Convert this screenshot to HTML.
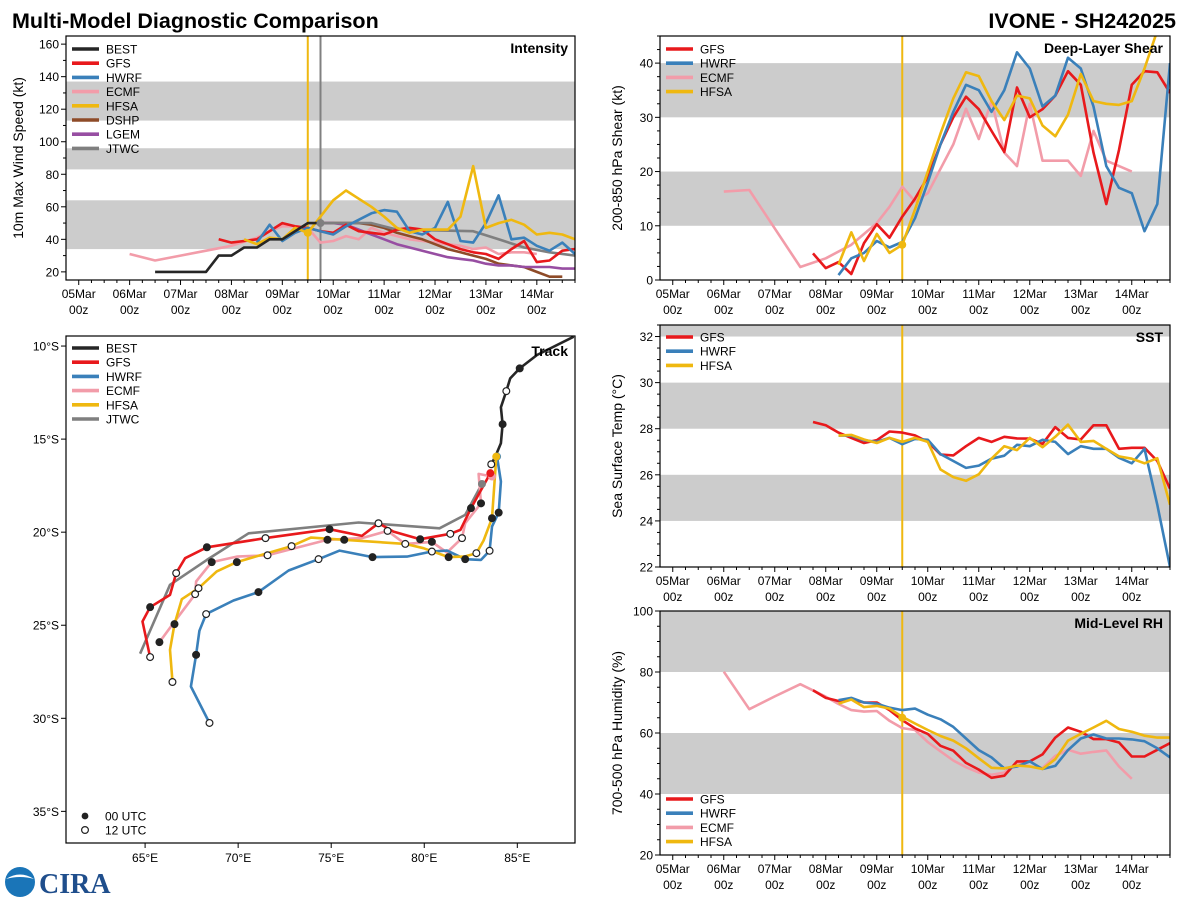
<!DOCTYPE html>
<html><head><meta charset="utf-8"><title>Multi-Model Diagnostic Comparison</title>
<style>
html,body{margin:0;padding:0;background:#fff;}
svg{display:block;font-family:"Liberation Sans","DejaVu Sans",sans-serif;}
</style></head>
<body>
<svg id="chart" width="1200" height="900" viewBox="0 0 1200 900" xmlns="http://www.w3.org/2000/svg">
<text x="12" y="28" font-size="21.5" font-weight="bold" fill="#000">Multi-Model Diagnostic Comparison</text>
<text x="1176" y="28" font-size="21.5" font-weight="bold" fill="#000" text-anchor="end">IVONE - SH242025</text>
<g>
<circle cx="20" cy="882" r="15" fill="#1a75b8"/>
<path d="M6,879 Q20,870 34,879 Q20,875 6,879Z" fill="#fff"/>
<text x="39" y="893" font-size="28" font-weight="bold" fill="#1f4e8c" font-family="Liberation Serif, serif">CIRA</text>
</g>
</svg>
<script>
// ===== Time-series data (time in days from 05Mar 00z) =====
const timeTickLabels = ['05Mar','06Mar','07Mar','08Mar','09Mar','10Mar','11Mar','12Mar','13Mar','14Mar'];

// Intensity (kt)
const intBestT0 = 1.5;
const intBestV = [20,20,20,20,20,30,30,35,35,40,40,45,50,50];
const intGfsT0 = 2.75;
const intGfsV = [40,38,39,40,45,50,48,47,45,44,49,45,44,43,46,47,46,40,37,34,32,31,28,34,39,26,27,33,34];
const intHwrfT0 = 3.5;
const intHwrfV = [38,49,39,44,47,45,43,48,52,56,58,57,45,43,47,63,39,38,50,67,40,41,36,33,38,31];
const intEcmfT = [1,1.5,2,2.5,3,3.5,3.75,4,4.25,4.5,4.75,5,5.25,5.5,5.75,6,6.25,6.5,6.75,7,7.25,7.5,7.75,8,8.25,8.5,8.75,9];
const intEcmfV = [31,27,30,33,36,41,45,48,48,47,38,39,42,40,47,44,42,40,39,38,37,36,34,35,31,32,32,31];
const intHfsaT0 = 3.25;
const intHfsaV = [40,37,41,40,47,44,54,64,70,65,60,54,47,44,46,46,46,54,85,47,50,52,49,43,44,43,40];
const intDshpT0 = 4.75;
const intDshpV = [50,50,50,50,49,47,44,42,40,37,34,32,30,28,25,24,23,20,17,17];
const intLgemT0 = 4.75;
const intLgemV = [50,50,49,46,43,40,37,35,33,31,29,28,27,25,24,24,23,23,23,22,22];
const intJtwcT = [4.75,5.75,6.25,7.75,8.25,8.75,9.25,9.75];
const intJtwcV = [50,50,46,45,40,35,32,30];

// Deep-layer shear (kt)
const shrGfsT0 = 2.75;
const shrGfsV = [4.9,2.2,3.3,1.1,6.8,10.3,7.8,11.7,15,19,25,30,33.8,31.5,27.5,23.6,35.5,30,31.5,34,38.5,36,23.5,14,24,36,38.5,38.3,34.5];
const shrHwrfT0 = 3.25;
const shrHwrfV = [0.9,4,5,7.2,6,7,11.4,18,25,31,36,35,31,35,42,39,32,34,41,39,32,21,17,16,9,14,40];
const shrEcmfT = [1,1.5,2.5,3,3.5,4,4.25,4.5,4.75,5,5.25,5.5,5.75,6,6.25,6.5,6.75,7,7.25,7.5,7.75,8,8.25,8.5,8.75,9];
const shrEcmfV = [16.3,16.6,2.4,4,6.5,10.5,13.5,17.2,14.5,16,20.5,25,31.6,26,33,23.5,21,32.5,22,22,22,19.2,27.5,22,21,20];
const shrHfsaT0 = 3.25;
const shrHfsaV = [2.8,8.8,3.5,8.5,5,6.5,13,20,27,33.5,38.3,37.6,33,29.5,34,33.5,28.5,26.5,30.5,38,33,32.5,32.3,33,39,46];

// SST (deg C)
const sstGfsT0 = 2.75;
const sstGfsV = [28.29,28.15,27.83,27.6,27.38,27.5,27.88,27.83,27.71,27.43,26.88,26.84,27.24,27.6,27.43,27.65,27.58,27.57,27.34,28.07,27.6,27.53,28.15,28.15,27.13,27.17,27.17,26.6,25.4];
const sstHwrfT0 = 3.25;
const sstHwrfV = [27.7,27.7,27.5,27.43,27.6,27.33,27.56,27.52,26.9,26.6,26.3,26.4,26.7,26.83,27.3,27.24,27.52,27.43,26.9,27.24,27.13,27.13,26.74,26.5,27.13,24.7,22.0];
const sstHfsaT0 = 3.25;
const sstHfsaV = [27.7,27.73,27.53,27.38,27.6,27.43,27.6,27.43,26.23,25.9,25.74,26.02,26.7,27.24,27.07,27.6,27.2,27.65,28.18,27.43,27.47,27.13,26.8,26.7,26.5,26.72,24.7];

// Mid-level RH (%)
const rhGfsT0 = 2.75;
const rhGfsV = [74,71.5,70.5,71,70,70,67.5,64.2,61.5,59.7,55.8,54.2,50.2,48,45.3,46,50.7,50.7,53,58.5,61.8,60.4,58,58,56.9,52.3,52.3,54.5,56.7];
const rhHwrfT0 = 3.25;
const rhHwrfV = [70.8,71.5,70,69.6,68.3,67.5,68,66,64.5,62,58.2,54.4,52,48.4,49,50.7,48.2,49.2,54.4,58.2,59.5,58.2,58.2,57.9,57.3,55,52];
const rhEcmfT = [1,1.5,2,2.5,3,3.25,3.5,3.75,4,4.25,4.5,4.75,5,5.25,5.5,5.75,6,6.25,6.5,6.75,7,7.25,7.5,7.75,8,8.25,8.5,8.75,9];
const rhEcmfV = [80.1,67.8,72,76,71.9,69.5,67.5,67,67.2,64,61.6,61,57,54,51,48.8,47,46.3,47,50,49,48.5,52.5,54.5,53.2,53.8,54.3,49,45];
const rhHfsaT0 = 3.25;
const rhHfsaV = [69.6,71,68.5,68.9,68,65.3,63.1,61,59,57.5,55,51.7,48.6,48.4,49.3,49,48.2,51.4,57.5,59.7,61.8,64,61.3,60.4,59.1,58.5,58.5];

// ===== Track data (lon E, lat; marker 0 none, 1 = 00 UTC, 2 = 12 UTC) =====
const trkBestLon = [88.03,86.06,85.13,84.62,84.41,84.12,84.21,84.12,83.82,83.60];
const trkBestLat = [-9.50,-10.48,-11.20,-11.74,-12.42,-13.29,-14.20,-15.22,-15.94,-16.35];
const trkBestMk  = [0,0,1,0,2,0,1,0,0,2];
const trkGfsLon = [83.55,82.51,81.94,81.40,79.78,78.35,77.54,76.65,74.91,71.47,68.32,67.15,66.67,66.34,65.27,64.86,65.27];
const trkGfsLat = [-16.83,-18.71,-19.88,-20.09,-20.38,-19.97,-19.52,-20.20,-19.84,-20.32,-20.81,-21.40,-22.20,-23.37,-24.03,-24.80,-26.71];
const trkGfsMk  = [0,1,0,2,1,0,2,0,1,2,1,0,2,0,1,0,2];
const trkHwrfLon = [83.91,84.12,84.00,83.64,83.51,83.05,82.20,81.22,80.41,79.07,77.22,75.45,74.32,72.71,71.09,69.75,68.28,67.92,67.74,67.46,68.46];
const trkHwrfLat = [-15.94,-17.28,-18.95,-19.70,-21.00,-21.49,-21.45,-20.99,-21.04,-21.31,-21.34,-20.99,-21.45,-22.06,-23.22,-23.67,-24.40,-25.30,-26.59,-28.29,-30.25];
const trkHwrfMk  = [0,0,1,0,2,0,1,0,2,0,1,0,2,0,1,0,2,0,1,0,2];
const trkEcmfLon = [83.64,82.92,83.05,82.20,82.03,81.22,80.41,78.98,78.03,76.65,74.80,71.58,69.93,68.58,67.74,67.69,66.52,65.77];
const trkEcmfLat = [-17.01,-16.87,-18.45,-19.52,-20.32,-21.09,-20.52,-20.63,-19.93,-20.32,-20.41,-21.24,-21.31,-21.61,-22.65,-23.33,-24.89,-25.91];
const trkEcmfMk  = [0,0,1,0,2,0,1,0,2,0,1,2,0,1,0,2,0,1];
const trkHfsaLon = [83.87,83.64,83.19,82.80,82.15,81.31,79.96,78.98,75.70,73.91,72.87,69.93,68.85,67.87,66.97,66.58,66.34,66.47];
const trkHfsaLat = [-15.94,-19.25,-20.45,-21.13,-21.31,-21.34,-20.86,-20.63,-20.41,-20.29,-20.75,-21.61,-22.11,-23.01,-23.60,-24.94,-26.32,-28.05];
const trkHfsaMk  = [0,1,0,2,0,1,0,2,1,0,2,1,0,2,0,1,0,2];
const trkJtwcLon = [83.10,82.20,80.82,76.47,70.56,68.32,66.34,64.73];
const trkJtwcLat = [-17.41,-19.07,-19.79,-19.48,-20.06,-21.49,-22.83,-26.53];
const trkJtwcMk  = [0,0,0,0,0,0,0,0];
const lonTicks = [65,70,75,80,85];
const latTicks = [-10,-15,-20,-25,-30,-35];

// ===== rendering =====
const NS = 'http://www.w3.org/2000/svg';
const svg = document.getElementById('chart');
const COL = {BEST:'#262626',GFS:'#e8191c',HWRF:'#3a80ba',ECMF:'#f29ca9',HFSA:'#efb810',DSHP:'#8e4b28',LGEM:'#974ea2',JTWC:'#7f7f7f'};

function el(tag, attrs, parent, name, inter) {
  const e = document.createElementNS(NS, tag);
  for (const k in attrs) e.setAttribute(k, attrs[k]);
  
  
  (parent || svg).appendChild(e);
  return e;
}
function txt(s, attrs, parent, name) {
  const e = el('text', attrs, parent, name, false);
  e.textContent = s;
  return e;
}
function regT(t0, n) { const a = []; for (let i = 0; i < n; i++) a.push(t0 + 0.25 * i); return a; }

let clipId = 0;
function timePanel(cfg) {
  const g = el('g', {}, svg, cfg.name + '-panel', false);
  const P = cfg;
  const xs = t => P.x + (t + 0.25) / 10 * P.w;
  const ys = v => P.y + P.h - (v - P.ymin) / (P.ymax - P.ymin) * P.h;
  const cid = 'clip' + (clipId++);
  const cp = el('clipPath', {id: cid}, g, cfg.name + '-clip', false);
  el('rect', {x: P.x, y: P.y, width: P.w, height: P.h}, cp, cfg.name + '-clip-rect', false);
  cfg.bands.forEach((b, i) => {
    const y1 = ys(Math.min(b[1], P.ymax)), y0 = ys(b[0]);
    el('rect', {x: P.x, y: y1, width: P.w, height: y0 - y1, fill: '#cccccc'}, g, cfg.name + '-band-' + i, false);
  });
  // y ticks
  const vStart = Math.ceil(P.ymin / P.minor - 1e-9) * P.minor;
  for (let v = vStart; v <= P.ymax + 1e-6; v += P.minor) {
    const y = ys(v);
    const major = Math.abs((v / P.major) - Math.round(v / P.major)) < 1e-6;
    el('line', {x1: P.x - (major ? 5 : 3), x2: P.x, y1: y, y2: y, stroke: '#000', 'stroke-width': 1}, g, cfg.name + '-ytick', false);
    if (major && v >= P.labMin) txt(String(Math.round(v)), {x: P.x - 7, y: y + 4.5, 'font-size': 12, 'text-anchor': 'end'}, g, cfg.name + '-ytick-label');
  }
  // x ticks
  for (let t = 0; t <= 9.75; t += 0.25) {
    const x = xs(t);
    const major = Math.abs(t - Math.round(t)) < 1e-6;
    el('line', {x1: x, x2: x, y1: P.y + P.h, y2: P.y + P.h + (major ? 5 : 3), stroke: '#000', 'stroke-width': 1}, g, cfg.name + '-xtick', false);
    if (major) {
      txt(timeTickLabels[Math.round(t)], {x: x, y: P.y + P.h + 18, 'font-size': 12, 'text-anchor': 'middle'}, g, cfg.name + '-xtick-date');
      txt('00z', {x: x, y: P.y + P.h + 34, 'font-size': 12, 'text-anchor': 'middle'}, g, cfg.name + '-xtick-hour');
    }
  }
  const cg = el('g', {'clip-path': 'url(#' + cid + ')'}, g, cfg.name + '-series-group', false);
  cfg.vlines.forEach(v => {
    el('line', {x1: xs(v[0]), x2: xs(v[0]), y1: P.y, y2: P.y + P.h, stroke: v[1], 'stroke-width': 2}, cg, cfg.name + '-init-line', false);
  });
  cfg.series.forEach(s => {
    const d = s.t.map((t, i) => (i ? 'L' : 'M') + xs(t).toFixed(1) + ',' + ys(s.v[i]).toFixed(1)).join('');
    el('path', {d: d, fill: 'none', stroke: COL[s.k], 'stroke-width': 2.6, 'stroke-linejoin': 'round'}, cg, cfg.name + '-line-' + s.k.toLowerCase(), false);
  });
  (cfg.dots || []).forEach(dt => {
    el('circle', {cx: xs(dt[0]), cy: ys(dt[1]), r: 4, fill: COL[dt[2]]}, cg, cfg.name + '-init-marker', false);
  });
  el('rect', {x: P.x, y: P.y, width: P.w, height: P.h, fill: 'none', stroke: '#000', 'stroke-width': 1.2}, g, cfg.name + '-frame', false);
  txt(cfg.title, {x: P.x + P.w - 7, y: P.y + 17, 'font-size': 14, 'font-weight': 'bold', 'text-anchor': 'end'}, g, cfg.name + '-title');
  const yc = P.y + P.h / 2;
  txt(cfg.ylab, {x: cfg.ylabX, y: yc, 'font-size': 14, 'text-anchor': 'middle', transform: 'rotate(-90 ' + cfg.ylabX + ' ' + yc + ')'}, g, cfg.name + '-y-axis-title');
  legend(g, cfg.name, cfg.legend, P.x + 6, cfg.legY);
}
function legend(g, name, keys, x, y) {
  const lg = el('g', {}, g, name + '-legend', false);
  keys.forEach((k, i) => {
    const yy = y + i * 14.2;
    el('line', {x1: x, x2: x + 27, y1: yy, y2: yy, stroke: COL[k], 'stroke-width': 3.6}, lg, 'legend-swatch-' + k.toLowerCase(), false);
    txt(k, {x: x + 34, y: yy + 4.5, 'font-size': 12}, lg, 'legend-entry-' + k.toLowerCase());
  });
}

timePanel({name: 'intensity', x: 66, y: 36, w: 509, h: 244, ymin: 15, ymax: 165, major: 20, minor: 10, labMin: 20,
  bands: [[34,64],[83,96],[113,137]], title: 'Intensity', ylab: '10m Max Wind Speed (kt)', ylabX: 23, legY: 49,
  vlines: [[4.5, '#efb810'], [4.75, '#808080']],
  legend: ['BEST','GFS','HWRF','ECMF','HFSA','DSHP','LGEM','JTWC'],
  series: [
    {k: 'ECMF', t: intEcmfT, v: intEcmfV},
    {k: 'DSHP', t: regT(intDshpT0, intDshpV.length), v: intDshpV},
    {k: 'LGEM', t: regT(intLgemT0, intLgemV.length), v: intLgemV},
    {k: 'JTWC', t: intJtwcT, v: intJtwcV},
    {k: 'GFS', t: regT(intGfsT0, intGfsV.length), v: intGfsV},
    {k: 'HWRF', t: regT(intHwrfT0, intHwrfV.length), v: intHwrfV},
    {k: 'HFSA', t: regT(intHfsaT0, intHfsaV.length), v: intHfsaV},
    {k: 'BEST', t: regT(intBestT0, intBestV.length), v: intBestV}
  ],
  dots: [[4.5, 44, 'HFSA'], [4.75, 50, 'JTWC']]
});
timePanel({name: 'shear', x: 660, y: 36, w: 510, h: 244, ymin: 0, ymax: 45, major: 10, minor: 2.5, labMin: 0,
  bands: [[10,20],[30,40]], title: 'Deep-Layer Shear', ylab: '200-850 hPa Shear (kt)', ylabX: 622, legY: 49,
  vlines: [[4.5, '#efb810']], legend: ['GFS','HWRF','ECMF','HFSA'],
  series: [
    {k: 'ECMF', t: shrEcmfT, v: shrEcmfV},
    {k: 'GFS', t: regT(shrGfsT0, shrGfsV.length), v: shrGfsV},
    {k: 'HWRF', t: regT(shrHwrfT0, shrHwrfV.length), v: shrHwrfV},
    {k: 'HFSA', t: regT(shrHfsaT0, shrHfsaV.length), v: shrHfsaV}
  ],
  dots: [[4.5, 6.5, 'HFSA']]
});
timePanel({name: 'sst', x: 660, y: 325, w: 510, h: 242, ymin: 22, ymax: 32.5, major: 2, minor: 0.5, labMin: 22,
  bands: [[24,26],[28,30],[32,34]], title: 'SST', ylab: 'Sea Surface Temp (°C)', ylabX: 622, legY: 337,
  vlines: [[4.5, '#efb810']], legend: ['GFS','HWRF','HFSA'],
  series: [
    {k: 'GFS', t: regT(sstGfsT0, sstGfsV.length), v: sstGfsV},
    {k: 'HWRF', t: regT(sstHwrfT0, sstHwrfV.length), v: sstHwrfV},
    {k: 'HFSA', t: regT(sstHfsaT0, sstHfsaV.length), v: sstHfsaV}
  ]
});
timePanel({name: 'rh', x: 660, y: 611, w: 510, h: 244, ymin: 20, ymax: 100, major: 20, minor: 5, labMin: 20,
  bands: [[40,60],[80,100]], title: 'Mid-Level RH', ylab: '700-500 hPa Humidity (%)', ylabX: 622, legY: 799,
  vlines: [[4.5, '#efb810']], legend: ['GFS','HWRF','ECMF','HFSA'],
  series: [
    {k: 'ECMF', t: rhEcmfT, v: rhEcmfV},
    {k: 'GFS', t: regT(rhGfsT0, rhGfsV.length), v: rhGfsV},
    {k: 'HWRF', t: regT(rhHwrfT0, rhHwrfV.length), v: rhHwrfV},
    {k: 'HFSA', t: regT(rhHfsaT0, rhHfsaV.length), v: rhHfsaV}
  ],
  dots: [[4.5, 65, 'HFSA']]
});

// ===== Track panel =====
(function () {
  const P = {x: 66, y: 336, w: 509, h: 507, lon0: 60.75, lon1: 88.1, lat0: -36.7, lat1: -9.46};
  const g = el('g', {}, svg, 'track-panel', false);
  const xs = lo => P.x + (lo - P.lon0) / (P.lon1 - P.lon0) * P.w;
  const ys = la => P.y + (P.lat1 - la) / (P.lat1 - P.lat0) * P.h;
  const cp = el('clipPath', {id: 'trkclip'}, g, 'track-clip', false);
  el('rect', {x: P.x, y: P.y, width: P.w, height: P.h}, cp, 'track-clip-rect', false);
  lonTicks.forEach(lo => {
    const x = xs(lo);
    el('line', {x1: x, x2: x, y1: P.y + P.h, y2: P.y + P.h + 5, stroke: '#000'}, g, 'lon-tick', false);
    txt(lo + '°E', {x: x, y: P.y + P.h + 19, 'font-size': 12, 'text-anchor': 'middle'}, g, 'lon-tick-label');
  });
  latTicks.forEach(la => {
    const y = ys(la);
    el('line', {x1: P.x - 5, x2: P.x, y1: y, y2: y, stroke: '#000'}, g, 'lat-tick', false);
    txt(Math.abs(la) + '°S', {x: P.x - 7, y: y + 4.5, 'font-size': 12, 'text-anchor': 'end'}, g, 'lat-tick-label');
  });
  const cg = el('g', {'clip-path': 'url(#trkclip)'}, g, 'track-series-group', false);
  const tracks = [
    ['JTWC', trkJtwcLon, trkJtwcLat, trkJtwcMk],
    ['ECMF', trkEcmfLon, trkEcmfLat, trkEcmfMk],
    ['HWRF', trkHwrfLon, trkHwrfLat, trkHwrfMk],
    ['HFSA', trkHfsaLon, trkHfsaLat, trkHfsaMk],
    ['GFS', trkGfsLon, trkGfsLat, trkGfsMk],
    ['BEST', trkBestLon, trkBestLat, trkBestMk]
  ];
  tracks.forEach(tr => {
    const d = tr[1].map((lo, i) => (i ? 'L' : 'M') + xs(lo).toFixed(1) + ',' + ys(tr[2][i]).toFixed(1)).join('');
    el('path', {d: d, fill: 'none', stroke: COL[tr[0]], 'stroke-width': 2.6, 'stroke-linejoin': 'round'}, cg, 'track-line-' + tr[0].toLowerCase(), false);
  });
  tracks.forEach(tr => {
    if (tr[0] !== 'BEST') el('circle', {cx: xs(tr[1][0]), cy: ys(tr[2][0]), r: 4, fill: COL[tr[0]]}, cg, 'track-start-' + tr[0].toLowerCase(), false);
  });
  tracks.forEach(tr => {
    tr[3].forEach((m, i) => {
      if (!m) return;
      el('circle', {cx: xs(tr[1][i]), cy: ys(tr[2][i]), r: 3.4, fill: m === 1 ? '#222' : '#fff', stroke: '#222', 'stroke-width': 1.2}, cg, m === 1 ? 'track-marker-00utc' : 'track-marker-12utc', false);
    });
  });
  el('rect', {x: P.x, y: P.y, width: P.w, height: P.h, fill: 'none', stroke: '#000', 'stroke-width': 1.2}, g, 'track-frame', false);
  txt('Track', {x: P.x + P.w - 7, y: P.y + 20, 'font-size': 14, 'font-weight': 'bold', 'text-anchor': 'end'}, g, 'track-title');
  legend(g, 'track', ['BEST','GFS','HWRF','ECMF','HFSA','JTWC'], P.x + 6, 348);
  el('circle', {cx: 85, cy: 816, r: 3.4, fill: '#222'}, g, 'legend-marker-00utc', false);
  txt('00 UTC', {x: 105, y: 820.5, 'font-size': 12}, g, 'legend-entry-00utc');
  el('circle', {cx: 85, cy: 830, r: 3.4, fill: '#fff', stroke: '#222', 'stroke-width': 1.2}, g, 'legend-marker-12utc', false);
  txt('12 UTC', {x: 105, y: 834.5, 'font-size': 12}, g, 'legend-entry-12utc');
})();
</script>
</body></html>
